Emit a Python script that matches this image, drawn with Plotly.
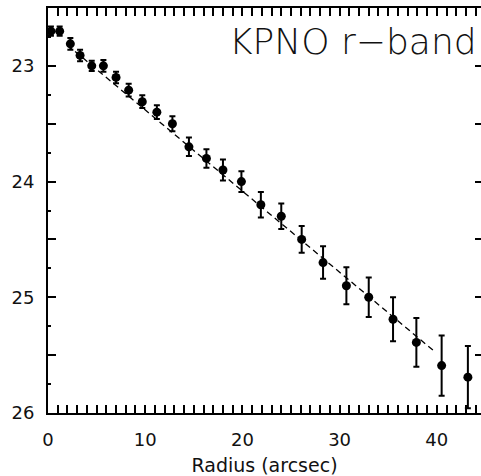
import plotly.graph_objects as go

# Surface-brightness profile (KPNO r-band)
radius = [0.3, 1.2, 2.3, 3.3, 4.5, 5.7, 7.0, 8.3, 9.7, 11.2, 12.8, 14.5, 16.3,
          18.0, 19.9, 21.9, 24.0, 26.1, 28.3, 30.7, 33.0, 35.5, 37.9, 40.5, 43.2]
mu = [22.70, 22.70, 22.81, 22.91, 23.00, 23.00, 23.10, 23.21, 23.31, 23.40, 23.50,
      23.70, 23.80, 23.90, 24.00, 24.20, 24.30, 24.50, 24.70, 24.90, 25.00, 25.19,
      25.39, 25.59, 25.69]
mu_err = [0.04, 0.04, 0.05, 0.05, 0.045, 0.05, 0.05, 0.055, 0.055, 0.06, 0.065,
          0.08, 0.08, 0.09, 0.09, 0.11, 0.11, 0.115, 0.14, 0.16, 0.17, 0.19,
          0.21, 0.26, 0.27]

# dashed model fit (endpoints)
fit_r = [2.0, 39.8]
fit_mu = [22.82, 25.47]

x_ticks = [0, 10, 20, 30, 40]
y_tickvals = [22.5, 23.0, 23.5, 24.0, 24.5, 25.0, 25.5, 26.0]
y_ticktext = ["", "23", "", "24", "", "25", "", "26"]

label = "KPNO r\u2212band"
x_title = "Radius (arcsec)"

FONT = "DejaVu Sans"

fig = go.Figure()
fig.add_trace(go.Scatter(x=fit_r, y=fit_mu, mode="lines",
                         line=dict(color="black", width=1.3, dash="6px,4px"),
                         showlegend=False, hoverinfo="skip"))
fig.add_trace(go.Scatter(x=radius, y=mu, mode="markers",
                         marker=dict(color="black", size=9, symbol="circle"),
                         error_y=dict(type="data", array=mu_err, visible=True,
                                      color="black", thickness=2, width=3),
                         showlegend=False, cliponaxis=False))
fig.add_trace(go.Scatter(x=[None], y=[None], yaxis="y2", showlegend=False))

fig.add_annotation(text=label, xref="paper", yref="paper", x=0.996, y=0.972,
                   xanchor="right", yanchor="top", showarrow=False,
                   font=dict(family=FONT, size=36, color="#111", weight=300))

fig.update_layout(
    width=481, height=476,
    margin=dict(l=48, r=0, t=8, b=63),
    paper_bgcolor="white", plot_bgcolor="white",
    font=dict(family=FONT, color="#111"),
    xaxis=dict(range=[0, 44.55], showgrid=False, zeroline=False,
               showline=True, linecolor="black", linewidth=2,
               mirror="allticks", ticks="inside", ticklen=8, tickwidth=1.5,
               tickcolor="black", tickvals=x_ticks,
               minor=dict(dtick=1, ticks="inside", ticklen=5, tickwidth=1.5,
                          tickcolor="black", showgrid=False),
               tickfont=dict(family=FONT, size=18, color="#111"),
               ticklabelstandoff=9,
               title=dict(text=x_title, standoff=11,
                          font=dict(family=FONT, size=19, color="#111"))),
    yaxis=dict(range=[26.0, 22.5], showgrid=False, zeroline=False,
               showline=True, linecolor="black", linewidth=2,
               ticks="inside", ticklen=8, tickwidth=1.5, tickcolor="black",
               tickvals=y_tickvals, ticktext=y_ticktext,
               minor=dict(dtick=0.25, ticks="inside", ticklen=3, tickwidth=1.5,
                          tickcolor="black", showgrid=False),
               tickfont=dict(family=FONT, size=18, color="#111"),
               ticklabelstandoff=8),
    yaxis2=dict(range=[26.0, 22.5], overlaying="y", side="right",
                showgrid=False, zeroline=False, showline=False,
                ticks="inside", ticklen=6, tickwidth=1.5, tickcolor="black",
                tickvals=y_tickvals, showticklabels=False),
)

fig.write_html("out.html")
